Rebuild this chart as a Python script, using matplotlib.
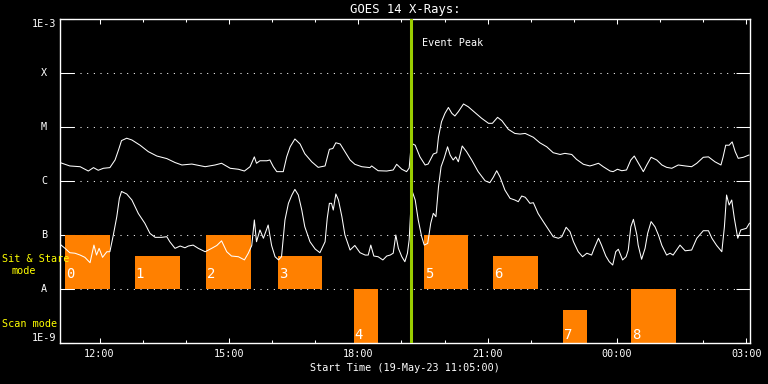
import matplotlib
matplotlib.use("Agg")
import matplotlib.pyplot as plt
import matplotlib.transforms as mtransforms
from matplotlib.ticker import FixedLocator, NullLocator, FuncFormatter

plt.rcParams['font.family'] = ['DejaVu Sans Mono', 'DejaVu Sans']

# hours since 00:00 on 19-May-23 (values > 24 are the next day)
long_t = [11.08, 11.31, 11.55, 11.74, 11.86, 11.97, 12.09, 12.24, 12.36, 12.44,
          12.51, 12.63, 12.75, 12.94, 13.13, 13.33, 13.56, 13.75, 13.91, 14.14,
          14.45, 14.68, 14.83, 15.03, 15.22, 15.36, 15.49, 15.59, 15.64, 15.72,
          15.88, 15.95, 16.03, 16.11, 16.26, 16.34, 16.42, 16.53, 16.65, 16.76,
          16.92, 17.07, 17.23, 17.33, 17.41, 17.48, 17.58, 17.69, 17.81, 17.92,
          18.08, 18.27, 18.31, 18.46, 18.66, 18.81, 18.89, 19.01, 19.12, 19.18,
          19.23, 19.32, 19.43, 19.55, 19.62, 19.74, 19.82, 19.86, 19.93, 20.01,
          20.09, 20.17, 20.24, 20.32, 20.44, 20.55, 20.71, 20.86, 21.02, 21.11,
          21.23, 21.33, 21.48, 21.63, 21.75, 21.87, 22.06, 22.21, 22.37, 22.52,
          22.68, 22.79, 22.95, 23.06, 23.22, 23.37, 23.45, 23.57, 23.68, 23.84,
          23.91, 24.01, 24.11, 24.22, 24.32, 24.40, 24.49, 24.61, 24.69, 24.79,
          24.92, 25.04, 25.15, 25.27, 25.42, 25.58, 25.73, 25.85, 26.00, 26.12,
          26.27, 26.41, 26.46, 26.52, 26.60, 26.67, 26.74, 26.81, 26.93, 27.06]
long_flux = [2.2e-6, 1.9e-6, 1.84e-6, 1.53e-6, 1.77e-6, 1.58e-6, 1.72e-6, 1.77e-6, 2.45e-6, 3.75e-6,
             5.6e-6, 6.2e-6, 5.75e-6, 4.6e-6, 3.5e-6, 2.9e-6, 2.6e-6, 2.2e-6, 1.98e-6, 2.06e-6,
             1.84e-6, 1.98e-6, 2.13e-6, 1.72e-6, 1.65e-6, 1.53e-6, 1.84e-6, 2.8e-6, 2.13e-6, 2.37e-6,
             2.37e-6, 2.45e-6, 1.84e-6, 1.49e-6, 1.49e-6, 2.8e-6, 4.3e-6, 6.0e-6, 4.85e-6, 3.2e-6,
             2.27e-6, 1.79e-6, 1.9e-6, 3.86e-6, 4.0e-6, 5.1e-6, 4.85e-6, 3.5e-6, 2.45e-6, 2.04e-6,
             1.84e-6, 1.77e-6, 1.9e-6, 1.55e-6, 1.53e-6, 1.6e-6, 2.04e-6, 1.65e-6, 1.49e-6, 1.74e-6,
             5.0e-6, 4.6e-6, 2.8e-6, 1.98e-6, 2.06e-6, 3.16e-6, 3.34e-6, 6.55e-6, 1.25e-5, 1.79e-5,
             2.3e-5, 1.79e-5, 1.6e-5, 1.92e-5, 2.67e-5, 2.37e-5, 1.84e-5, 1.45e-5, 1.17e-5, 1.17e-5,
             1.51e-5, 1.31e-5, 9.05e-6, 7.6e-6, 7.4e-6, 7.6e-6, 6.45e-6, 5.1e-6, 4.3e-6, 3.34e-6,
             3.1e-6, 3.25e-6, 3.1e-6, 2.52e-6, 2.04e-6, 1.9e-6, 1.98e-6, 2.13e-6, 1.84e-6, 1.53e-6,
             1.49e-6, 1.65e-6, 1.55e-6, 1.6e-6, 2.45e-6, 2.9e-6, 2.18e-6, 1.49e-6, 1.98e-6, 2.75e-6,
             2.45e-6, 1.98e-6, 1.79e-6, 1.72e-6, 1.98e-6, 1.9e-6, 1.84e-6, 2.13e-6, 2.75e-6, 2.8e-6,
             2.27e-6, 1.98e-6, 2.8e-6, 4.6e-6, 4.6e-6, 5.3e-6, 3.5e-6, 2.63e-6, 2.75e-6, 3.03e-6]

short_t = [11.08, 11.20, 11.31, 11.43, 11.55, 11.66, 11.78, 11.87, 11.93, 11.99,
           12.07, 12.17, 12.24, 12.32, 12.40, 12.46, 12.51, 12.63, 12.75, 12.90,
           13.05, 13.17, 13.29, 13.44, 13.56, 13.63, 13.75, 13.87, 13.98, 14.06,
           14.17, 14.29, 14.45, 14.60, 14.72, 14.83, 14.95, 15.06, 15.22, 15.36,
           15.45, 15.53, 15.59, 15.64, 15.72, 15.80, 15.91, 15.99, 16.07, 16.15,
           16.22, 16.30, 16.38, 16.46, 16.53, 16.61, 16.69, 16.76, 16.88, 17.00,
           17.11, 17.23, 17.28, 17.33, 17.38, 17.42, 17.48, 17.54, 17.62, 17.69,
           17.81, 17.92, 18.04, 18.16, 18.23, 18.29, 18.36, 18.46, 18.57, 18.66,
           18.74, 18.81, 18.87, 18.93, 19.01, 19.08, 19.14, 19.18, 19.21, 19.24,
           19.32, 19.39, 19.47, 19.53, 19.61, 19.68, 19.74, 19.80, 19.86, 19.92,
           19.99, 20.07, 20.13, 20.20, 20.26, 20.32, 20.41, 20.51, 20.63, 20.78,
           20.94, 21.05, 21.13, 21.21, 21.29, 21.40, 21.52, 21.63, 21.71, 21.79,
           21.87, 21.91, 21.98, 22.06, 22.17, 22.29, 22.41, 22.52, 22.64, 22.72,
           22.82, 22.91, 22.99, 23.10, 23.20, 23.30, 23.41, 23.47, 23.57, 23.64,
           23.74, 23.82, 23.90, 23.97, 24.03, 24.13, 24.21, 24.26, 24.32, 24.38,
           24.46, 24.49, 24.57, 24.65, 24.71, 24.79, 24.88, 24.96, 25.04, 25.15,
           25.23, 25.30, 25.46, 25.58, 25.73, 25.85, 26.00, 26.12, 26.20, 26.31,
           26.43, 26.49, 26.54, 26.60, 26.66, 26.72, 26.80, 26.87, 27.00, 27.07]
short_flux = [6.8e-8, 5.66e-8, 4.7e-8, 4.6e-8, 4.25e-8, 3.86e-8, 3.07e-8, 6.5e-8, 4.25e-8, 5.66e-8,
              3.86e-8, 4.9e-8, 4.9e-8, 1.0e-7, 2.18e-7, 4.77e-7, 6.4e-7, 5.75e-7, 4.45e-7, 2.5e-7,
              1.65e-7, 1.07e-7, 9.05e-8, 9.05e-8, 9.3e-8, 7.5e-8, 5.66e-8, 6.25e-8, 5.8e-8, 6.25e-8,
              6.5e-8, 5.66e-8, 4.9e-8, 5.66e-8, 6.4e-8, 7.8e-8, 4.9e-8, 4.08e-8, 3.96e-8, 3.46e-8,
              4.6e-8, 6.4e-8, 1.9e-7, 7.5e-8, 1.24e-7, 8.7e-8, 1.53e-7, 6.4e-8, 3.96e-8, 3.46e-8,
              3.96e-8, 1.9e-7, 3.86e-7, 5.5e-7, 7.0e-7, 5.5e-7, 2.9e-7, 1.42e-7, 7.5e-8, 5.5e-8,
              4.7e-8, 7.5e-8, 2.04e-7, 3.86e-7, 3.86e-7, 2.9e-7, 5.75e-7, 4.45e-7, 2.18e-7, 1.0e-7,
              5.27e-8, 6.4e-8, 4.7e-8, 4.25e-8, 4.25e-8, 6.5e-8, 4.08e-8, 3.96e-8, 3.45e-8, 4.08e-8,
              4.25e-8, 4.6e-8, 1.0e-7, 5.66e-8, 3.96e-8, 3.2e-8, 4.6e-8, 8.1e-8, 2.34e-7, 6.8e-7,
              4.45e-7, 1.9e-7, 9.3e-8, 6.5e-8, 7.0e-8, 1.65e-7, 2.52e-7, 2.18e-7, 7.8e-7, 1.84e-6,
              2.63e-6, 4.3e-6, 3.03e-6, 2.45e-6, 2.8e-6, 2.27e-6, 4.45e-6, 3.5e-6, 2.45e-6, 1.49e-6,
              1.01e-6, 9.3e-7, 1.17e-6, 1.55e-6, 1.17e-6, 6.8e-7, 4.77e-7, 4.45e-7, 4.14e-7, 5.27e-7,
              5.0e-7, 4.58e-7, 3.86e-7, 3.96e-7, 2.5e-7, 1.77e-7, 1.27e-7, 9.3e-8, 8.7e-8, 9.3e-8,
              1.39e-7, 1.15e-7, 7.5e-8, 4.9e-8, 3.96e-8, 4.6e-8, 4.25e-8, 5.66e-8, 8.7e-8, 6.5e-8,
              4.08e-8, 3.2e-8, 2.78e-8, 4.9e-8, 5.45e-8, 3.45e-8, 3.96e-8, 5.27e-8, 1.42e-7, 1.95e-7,
              1.0e-7, 6.5e-8, 3.55e-8, 5.66e-8, 1.07e-7, 1.77e-7, 1.42e-7, 1.0e-7, 6.4e-8, 4.25e-8,
              4.6e-8, 4.25e-8, 6.5e-8, 5.1e-8, 5.27e-8, 8.7e-8, 1.2e-7, 1.2e-7, 8.7e-8, 6.4e-8,
              4.9e-8, 1.42e-7, 5.5e-7, 3.59e-7, 4.45e-7, 2.04e-7, 8.7e-8, 1.24e-7, 1.33e-7, 1.65e-7]

# observation blocks
obs_ids = ['0', '1', '2', '3', '4', '5', '6', '7', '8']
obs_start = [11.20, 12.82, 14.47, 16.14, 17.90, 19.52, 21.13, 22.75, 24.32]
obs_end = [12.24, 13.87, 15.51, 17.16, 18.46, 20.54, 22.16, 23.30, 25.37]
obs_bottom = [1e-8, 1e-8, 1e-8, 1e-8, 1e-9, 1e-8, 1e-8, 1e-9, 1e-9]
obs_top = [1e-7, 4.1e-8, 1e-7, 4.1e-8, 1e-8, 1e-7, 4.1e-8, 4.1e-9, 1e-8]

event_peak = 19.22
t_start, t_end = 11 + 5 / 60, 27 + 5 / 60
class_levels = [1e-3, 1e-4, 1e-5, 1e-6, 1e-7, 1e-8, 1e-9]
class_labels = ['1E-3', 'X', 'M', 'C', 'B', 'A', '1E-9']

fig = plt.figure(figsize=(7.68, 3.84), dpi=100, facecolor='black')
ax = fig.add_axes([60 / 768, 41 / 384, 690 / 768, 324 / 384])
ax.set_facecolor('black')
ax.set_yscale('log')
ax.set_xlim(t_start, t_end)
ax.set_ylim(1e-9, 1e-3)

for lev in class_levels[1:-1]:
    ax.axhline(lev, color='white', lw=0.75, ls=(0, (1, 5.4)), zorder=1)

ax.bar(obs_start, [t - b for t, b in zip(obs_top, obs_bottom)],
       width=[e - s for s, e in zip(obs_start, obs_end)], bottom=obs_bottom,
       align='edge', color='#ff8000', zorder=2)
for lab, s, b in zip(obs_ids, obs_start, obs_bottom):
    dy = 7.7 if b == 1e-8 else 3.2
    ax.annotate(lab, (s, b), xytext=(0.6, dy), textcoords='offset points',
                color='white', fontsize=10, va='baseline', ha='left', zorder=4)

ax.plot(long_t, long_flux, color='white', lw=0.75, zorder=3)
ax.plot(short_t, short_flux, color='white', lw=0.75, zorder=3)

ax.axvline(event_peak, color='#9acd00', lw=2.2, zorder=5)
ax.annotate('Event Peak', (event_peak, 1e-3), xytext=(7.7, -17.3),
            textcoords='offset points', color='white', fontsize=7.3,
            ha='left', va='center')

# axes styling
for sp in ax.spines.values():
    sp.set_color('white')
    sp.set_linewidth(1)
ax.yaxis.set_major_locator(FixedLocator(class_levels))
ax.yaxis.set_minor_locator(NullLocator())
ax.tick_params(axis='y', which='major', left=True, right=True, direction='in',
               length=10, width=0.75, color='white', labelleft=False)
ax.xaxis.set_major_locator(FixedLocator([12, 15, 18, 21, 24, 27]))
ax.xaxis.set_minor_locator(FixedLocator(list(range(12, 28))))
ax.xaxis.set_major_formatter(FuncFormatter(lambda h, p: '%02d:00' % (int(round(h)) % 24)))
ax.tick_params(axis='x', which='both', top=True, bottom=True, direction='in',
               color='white', width=0.75, labelcolor='white', labelsize=7.3, pad=4.5)
ax.tick_params(axis='x', which='major', length=3.6)
ax.tick_params(axis='x', which='minor', length=2.4)

trans = mtransforms.blended_transform_factory(ax.transAxes, ax.transData)
for lev, lab in zip(class_levels, class_labels):
    va = 'top' if lab == '1E-3' else ('bottom' if lab == '1E-9' else 'center')
    ax.text(-16 / 690, lev, lab, transform=trans, color='white', fontsize=7.3,
            ha='center', va=va)

fig.text(405 / 768, 1 - 10 / 384, 'GOES 14 X-Rays:', color='white', fontsize=8.8,
         ha='center', va='center')
fig.text(405 / 768, 1 - 368 / 384, 'Start Time (19-May-23 11:05:00)', color='white',
         fontsize=7.3, ha='center', va='center')
fig.text(2 / 768, 1 - 259 / 384, 'Sit & Stare', color='yellow', fontsize=7.3,
         ha='left', va='center')
fig.text(24 / 768, 1 - 271 / 384, 'mode', color='yellow', fontsize=7.3,
         ha='center', va='center')
fig.text(2 / 768, 1 - 324 / 384, 'Scan mode', color='yellow', fontsize=7.3,
         ha='left', va='center')

fig.savefig('out.png', dpi=100, facecolor='black')
